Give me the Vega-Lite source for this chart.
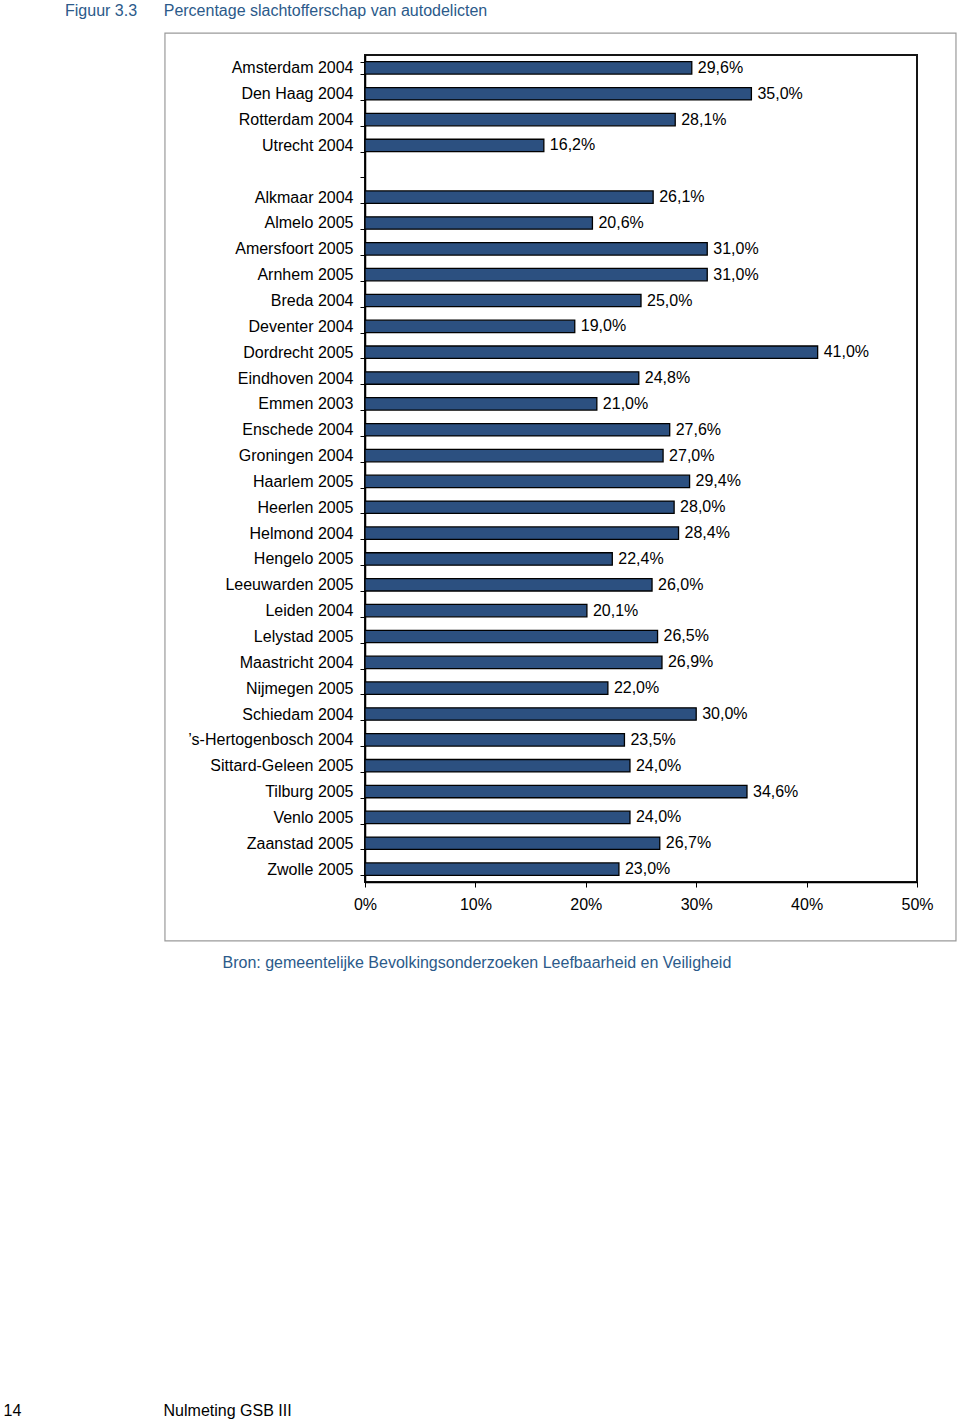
{
  "$schema": "https://vega.github.io/schema/vega-lite/v6.json",
  "autosize": "none",
  "width": 552,
  "height": 827,
  "padding": {"left": 365, "top": 55, "right": 43, "bottom": 539},
  "background": "white",
  "title": {
    "text": "Figuur 3.3\u00a0\u00a0\u00a0\u00a0\u00a0\u00a0Percentage slachtofferschap van autodelicten",
    "anchor": "start",
    "frame": "group",
    "dx": -300,
    "offset": 13,
    "color": "#2B5A8A",
    "fontSize": 16,
    "fontWeight": "normal",
    "font": "Liberation Sans"
  },
  "config": {
    "font": "Liberation Sans",
    "view": {"stroke": "#151515", "strokeWidth": 2},
    "locale": {"number": {"decimal": ",", "thousands": ".", "grouping": [3], "currency": ["€", ""]}}
  },
  "resolve": {"scale": {"y": "independent"}, "axis": {"y": "independent", "x": "independent"}},
  "layer": [
    {
      "data": {"values": [{"box": "frame"}]},
      "mark": {"type": "rect", "fill": null, "stroke": "#9a9a9a", "strokeWidth": 1.2},
      "encoding": {
        "x": {"datum": -0.1812, "type": "quantitative", "scale": {"domain": [0, 0.5]},
          "axis": {"orient": "top", "domain": false, "ticks": false, "labels": false, "grid": false,
            "title": "14\u00a0\u00a0\u00a0\u00a0\u00a0\u00a0\u00a0\u00a0\u00a0\u00a0\u00a0\u00a0\u00a0\u00a0\u00a0\u00a0\u00a0\u00a0\u00a0\u00a0\u00a0\u00a0\u00a0\u00a0\u00a0\u00a0\u00a0\u00a0\u00a0\u00a0\u00a0\u00a0Nulmeting GSB III",
            "titleAnchor": "start", "titleAlign": "left", "titleBaseline": "middle",
            "titleX": -362, "titleY": 1355, "titleColor": "#000000", "titleFontSize": 16, "titleFontWeight": "normal"}},
        "x2": {"datum": 0.5353},
        "y": {"datum": -0.85, "type": "quantitative", "scale": {"domain": [0, 32], "reverse": true, "nice": false, "zero": false}, "axis": null},
        "y2": {"datum": 34.28}
      }
    },
    {
      "data": {
        "values": [
          {"naam": "Amsterdam 2004", "waarde": 0.296},
          {"naam": "Den Haag 2004", "waarde": 0.350},
          {"naam": "Rotterdam 2004", "waarde": 0.281},
          {"naam": "Utrecht 2004", "waarde": 0.162},
          {"naam": "Alkmaar 2004", "waarde": 0.261},
          {"naam": "Almelo 2005", "waarde": 0.206},
          {"naam": "Amersfoort 2005", "waarde": 0.310},
          {"naam": "Arnhem 2005", "waarde": 0.310},
          {"naam": "Breda 2004", "waarde": 0.250},
          {"naam": "Deventer 2004", "waarde": 0.190},
          {"naam": "Dordrecht 2005", "waarde": 0.410},
          {"naam": "Eindhoven 2004", "waarde": 0.248},
          {"naam": "Emmen 2003", "waarde": 0.210},
          {"naam": "Enschede 2004", "waarde": 0.276},
          {"naam": "Groningen 2004", "waarde": 0.270},
          {"naam": "Haarlem 2005", "waarde": 0.294},
          {"naam": "Heerlen 2005", "waarde": 0.280},
          {"naam": "Helmond 2004", "waarde": 0.284},
          {"naam": "Hengelo 2005", "waarde": 0.224},
          {"naam": "Leeuwarden 2005", "waarde": 0.260},
          {"naam": "Leiden 2004", "waarde": 0.201},
          {"naam": "Lelystad 2005", "waarde": 0.265},
          {"naam": "Maastricht 2004", "waarde": 0.269},
          {"naam": "Nijmegen 2005", "waarde": 0.220},
          {"naam": "Schiedam 2004", "waarde": 0.300},
          {"naam": "’s-Hertogenbosch 2004", "waarde": 0.235},
          {"naam": "Sittard-Geleen 2005", "waarde": 0.240},
          {"naam": "Tilburg 2005", "waarde": 0.346},
          {"naam": "Venlo 2005", "waarde": 0.240},
          {"naam": "Zaanstad 2005", "waarde": 0.267},
          {"naam": "Zwolle 2005", "waarde": 0.230}
        ]
      },
      "encoding": {
        "y": {
          "field": "naam", "type": "nominal", "sort": null,
          "scale": {
            "domain": ["Amsterdam 2004", "Den Haag 2004", "Rotterdam 2004", "Utrecht 2004", " ",
              "Alkmaar 2004", "Almelo 2005", "Amersfoort 2005", "Arnhem 2005", "Breda 2004", "Deventer 2004",
              "Dordrecht 2005", "Eindhoven 2004", "Emmen 2003", "Enschede 2004", "Groningen 2004", "Haarlem 2005",
              "Heerlen 2005", "Helmond 2004", "Hengelo 2005", "Leeuwarden 2005", "Leiden 2004", "Lelystad 2005",
              "Maastricht 2004", "Nijmegen 2005", "Schiedam 2004", "’s-Hertogenbosch 2004", "Sittard-Geleen 2005",
              "Tilburg 2005", "Venlo 2005", "Zaanstad 2005", "Zwolle 2005"],
            "paddingInner": 0.52, "paddingOuter": 0.26
          },
          "axis": {
            "title": null, "tickBand": "extent", "tickSize": 5, "tickColor": "#000000", "tickWidth": 1,
            "domainColor": "#000000", "domainWidth": 1.5, "labelPadding": 7, "labelFontSize": 16,
            "labelColor": "#000000", "grid": false, "labelFont": "Liberation Sans"
          }
        },
        "x": {
          "field": "waarde", "type": "quantitative", "scale": {"domain": [0, 0.5], "nice": false},
          "axis": {
            "orient": "bottom", "labelFlush": false,
            "format": ".0%", "values": [0, 0.1, 0.2, 0.3, 0.4, 0.5], "tickSize": 5, "tickColor": "#000000",
            "domainColor": "#000000", "domainWidth": 1.5, "labelFontSize": 16, "labelColor": "#000000",
            "labelPadding": 9, "grid": false, "labelFont": "Liberation Sans",
            "title": "Bron: gemeentelijke Bevolkingsonderzoeken Leefbaarheid en Veiligheid",
            "titleAnchor": "start", "titleAlign": "left", "titleBaseline": "middle",
            "titleX": -143, "titleY": 80, "titleColor": "#2B5A8A", "titleFontSize": 16,
            "titleFontWeight": "normal", "titleFont": "Liberation Sans"
          }
        }
      },
      "layer": [
        {"mark": {"type": "bar", "fill": "#2C5080", "stroke": "#000000", "strokeWidth": 1.3}},
        {"mark": {"type": "text", "align": "left", "baseline": "middle", "dx": 6, "fontSize": 16, "color": "#000000", "font": "Liberation Sans"},
         "encoding": {"text": {"field": "waarde", "type": "quantitative", "format": ".1%"}}}
      ]
    }
  ]
}
